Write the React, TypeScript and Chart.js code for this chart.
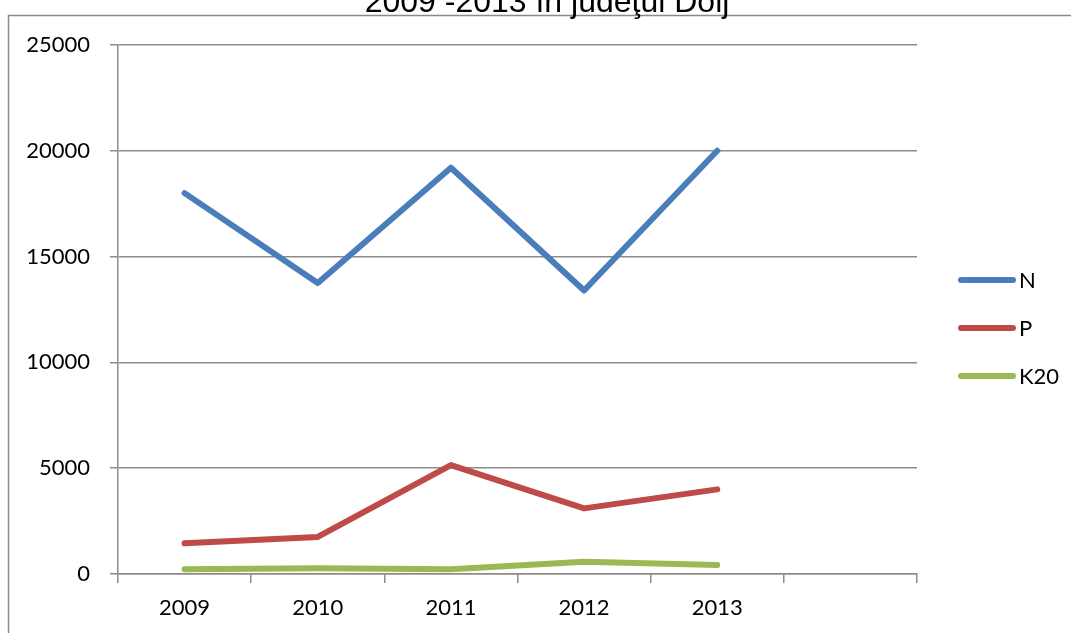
import React, { useEffect, useRef } from "react";
import { Chart, registerables } from "chart.js";

Chart.register(...registerables);

const years = ["2009", "2010", "2011", "2012", "2013", ""];
const nValues = [18000, 13750, 19200, 13400, 20000];
const pValues = [1450, 1750, 5150, 3100, 4000];
const kValues = [230, 270, 220, 580, 430];
const seriesNames = ["N", "P", "K20"];
const seriesColors = ["#4A7EBB", "#BE4B48", "#98B954"];
const yTicks = [0, 5000, 10000, 15000, 20000, 25000];
const titleText = "2009 -2013 în judeţul Dolj";

const W = 1071;
const H = 633;
const AXIS_FONT = "Lato, 'Open Sans', sans-serif";
const GRID = "#8c8c8c";
const LINE_W = 6;

// Outer frame, clipped title and the legend on the right
const decorations = {
  id: "decorations",
  afterDraw(chart: Chart) {
    const ctx = chart.ctx;
    ctx.save();
    // frame
    ctx.strokeStyle = "#8a8a8a";
    ctx.lineWidth = 1.5;
    ctx.beginPath();
    ctx.moveTo(8.5, H + 2);
    ctx.lineTo(8.5, 15.5);
    ctx.lineTo(W + 2, 15.5);
    ctx.stroke();

    // title (top part runs off the canvas)
    ctx.fillStyle = "#000";
    ctx.font = "32px 'Liberation Sans', Arial, sans-serif";
    ctx.textAlign = "center";
    ctx.textBaseline = "alphabetic";
    ctx.fillText(titleText, 547, 12);

    // legend
    const ys = [280, 328, 376];
    chart.data.datasets.forEach((ds: any, i: number) => {
      const y = ys[i];
      ctx.strokeStyle = ds.borderColor;
      ctx.lineWidth = LINE_W;
      ctx.lineCap = "round";
      ctx.beginPath();
      ctx.moveTo(961, y);
      ctx.lineTo(1013, y);
      ctx.stroke();
      ctx.fillStyle = "#000";
      ctx.font = `22px ${AXIS_FONT}`;
      ctx.textAlign = "left";
      ctx.textBaseline = "middle";
      ctx.fillText(ds.label, 1019, y + 1);
    });
    ctx.restore();
  },
};

export default function App() {
  const ref = useRef<HTMLCanvasElement>(null);

  useEffect(() => {
    document.body.style.margin = "0";
    const canvas = ref.current!;
    const chart = new Chart(canvas, {
      type: "line",
      data: {
        labels: years,
        datasets: [nValues, pValues, kValues].map((d, i) => ({
          label: seriesNames[i],
          data: d,
          borderColor: seriesColors[i],
          backgroundColor: seriesColors[i],
          borderWidth: LINE_W,
          borderCapStyle: "round" as const,
          borderJoinStyle: "round" as const,
          pointRadius: 0,
          tension: 0,
          fill: false,
        })),
      },
      options: {
        responsive: false,
        animation: false,
        devicePixelRatio: 1,
        layout: { padding: { left: 0, right: W - 917, top: 45, bottom: 0 } },
        plugins: {
          legend: { display: false },
          title: { display: false },
          tooltip: { enabled: false },
        },
        scales: {
          x: {
            type: "category",
            offset: true,
            grid: {
              offset: true,
              drawOnChartArea: false,
              drawTicks: true,
              tickLength: 9,
              color: GRID,
              lineWidth: 1.5,
            },
            border: { display: true, color: GRID, width: 1.5 },
            ticks: {
              color: "#000",
              font: { family: AXIS_FONT, size: 22 },
              padding: 12,
              maxRotation: 0,
              autoSkip: false,
            },
            afterFit(scale: any) {
              scale.height = H - 574;
            },
          },
          y: {
            min: 0,
            max: 25000,
            afterBuildTicks(scale: any) {
              scale.ticks = yTicks.map((v) => ({ value: v }));
            },
            grid: {
              drawTicks: true,
              tickLength: 8,
              color: GRID,
              lineWidth: 1.5,
            },
            border: { display: true, color: GRID, width: 1.5 },
            ticks: {
              color: "#000",
              font: { family: AXIS_FONT, size: 22 },
              padding: 20,
              callback: (v: any) => String(v),
            },
            afterFit(scale: any) {
              scale.width = 118;
            },
          },
        },
      },
      plugins: [decorations],
    });
    return () => chart.destroy();
  }, []);

  return (
    <div style={{ position: "absolute", left: 0, top: 0, width: W, height: H, background: "#fff" }}>
      <canvas ref={ref} width={W} height={H} style={{ display: "block", width: W, height: H }} />
    </div>
  );
}
